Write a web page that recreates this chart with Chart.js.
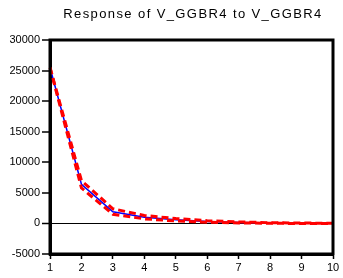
<!DOCTYPE html>
<html>
<head>
<meta charset="utf-8">
<script src="https://cdn.jsdelivr.net/npm/chart.js@4/dist/chart.umd.min.js"></script>
<style>
html,body{margin:0;padding:0;background:#fff;}
#wrap{width:343px;height:278px;}
</style>
</head>
<body>
<div id="wrap"><canvas id="c" width="343" height="278"></canvas></div>
<script>
const titleText = "Response of V_GGBR4 to V_GGBR4";
const periods = ["1","2","3","4","5","6","7","8","9","10"];
const response = [25500, 6400, 1900, 1000, 600, 320, 170, 70, 30, 10];
const upperBand = [25500, 7000, 2400, 1300, 800, 450, 250, 120, 60, 30];
const lowerBand = [25500, 5800, 1500, 750, 400, 200, 90, 20, 0, -10];
const yMin = -5000, yMax = 30000, yStep = 5000;

const framePlugin = {
  id: 'frame',
  afterDraw(chart) {
    const ctx = chart.ctx, a = chart.chartArea;
    ctx.save();
    ctx.strokeStyle = '#000';
    ctx.lineWidth = 3;
    ctx.strokeRect(a.left, a.top, a.right - a.left, a.bottom - a.top);
    ctx.fillStyle = '#000';
    ctx.font = '13px "Liberation Sans", Arial, sans-serif';
    ctx.letterSpacing = '1.4px';
    ctx.textAlign = 'center';
    ctx.textBaseline = 'middle';
    ctx.fillText(titleText, 193, 14);
    ctx.restore();
  }
};

new Chart(document.getElementById('c'), {
  type: 'line',
  data: {
    labels: periods,
    datasets: [
      { label: 'Response', data: response, borderColor: '#0000ff', borderWidth: 1.5, pointRadius: 0, tension: 0, order: 2 },
      { label: 'Upper', data: upperBand, borderColor: '#ff0000', borderWidth: 3, borderDash: [7, 4], pointRadius: 0, tension: 0, order: 1 },
      { label: 'Lower', data: lowerBand, borderColor: '#ff0000', borderWidth: 3, borderDash: [7, 4], pointRadius: 0, tension: 0, order: 1 }
    ]
  },
  options: {
    responsive: false,
    animation: false,
    layout: { padding: { top: 40, right: 10, left: 0, bottom: 0 } },
    plugins: { legend: { display: false }, title: { display: false }, tooltip: { enabled: false } },
    scales: {
      x: {
        type: 'category',
        offset: false,
        afterFit(s) { s.height = 24; },
        grid: { display: true, drawOnChartArea: false, drawTicks: true, tickLength: 5, tickColor: '#000', tickWidth: 1.5 },
        border: { display: true, width: 3, color: '#000' },
        ticks: { color: '#000', font: { family: 'Arial, "Liberation Sans", sans-serif', size: 11 }, padding: 2, maxRotation: 0, autoSkip: false }
      },
      y: {
        min: yMin, max: yMax,
        afterFit(s) { s.width = 50; },
        grid: {
          drawOnChartArea: true, drawTicks: true, tickLength: 8, tickWidth: 1.5, tickColor: '#000',
          color: (c) => (c.tick && c.tick.value === 0) ? '#000' : 'rgba(0,0,0,0)',
          lineWidth: (c) => (c.tick && c.tick.value === 0) ? 1 : 0
        },
        border: { display: true, width: 3, color: '#000' },
        ticks: { stepSize: yStep, color: '#000', font: { family: '"Liberation Sans Narrow", Arial, sans-serif', size: 11 }, padding: 2,
          callback: (v) => String(v) }
      }
    }
  },
  plugins: [framePlugin]
});
</script>
</body>
</html>
